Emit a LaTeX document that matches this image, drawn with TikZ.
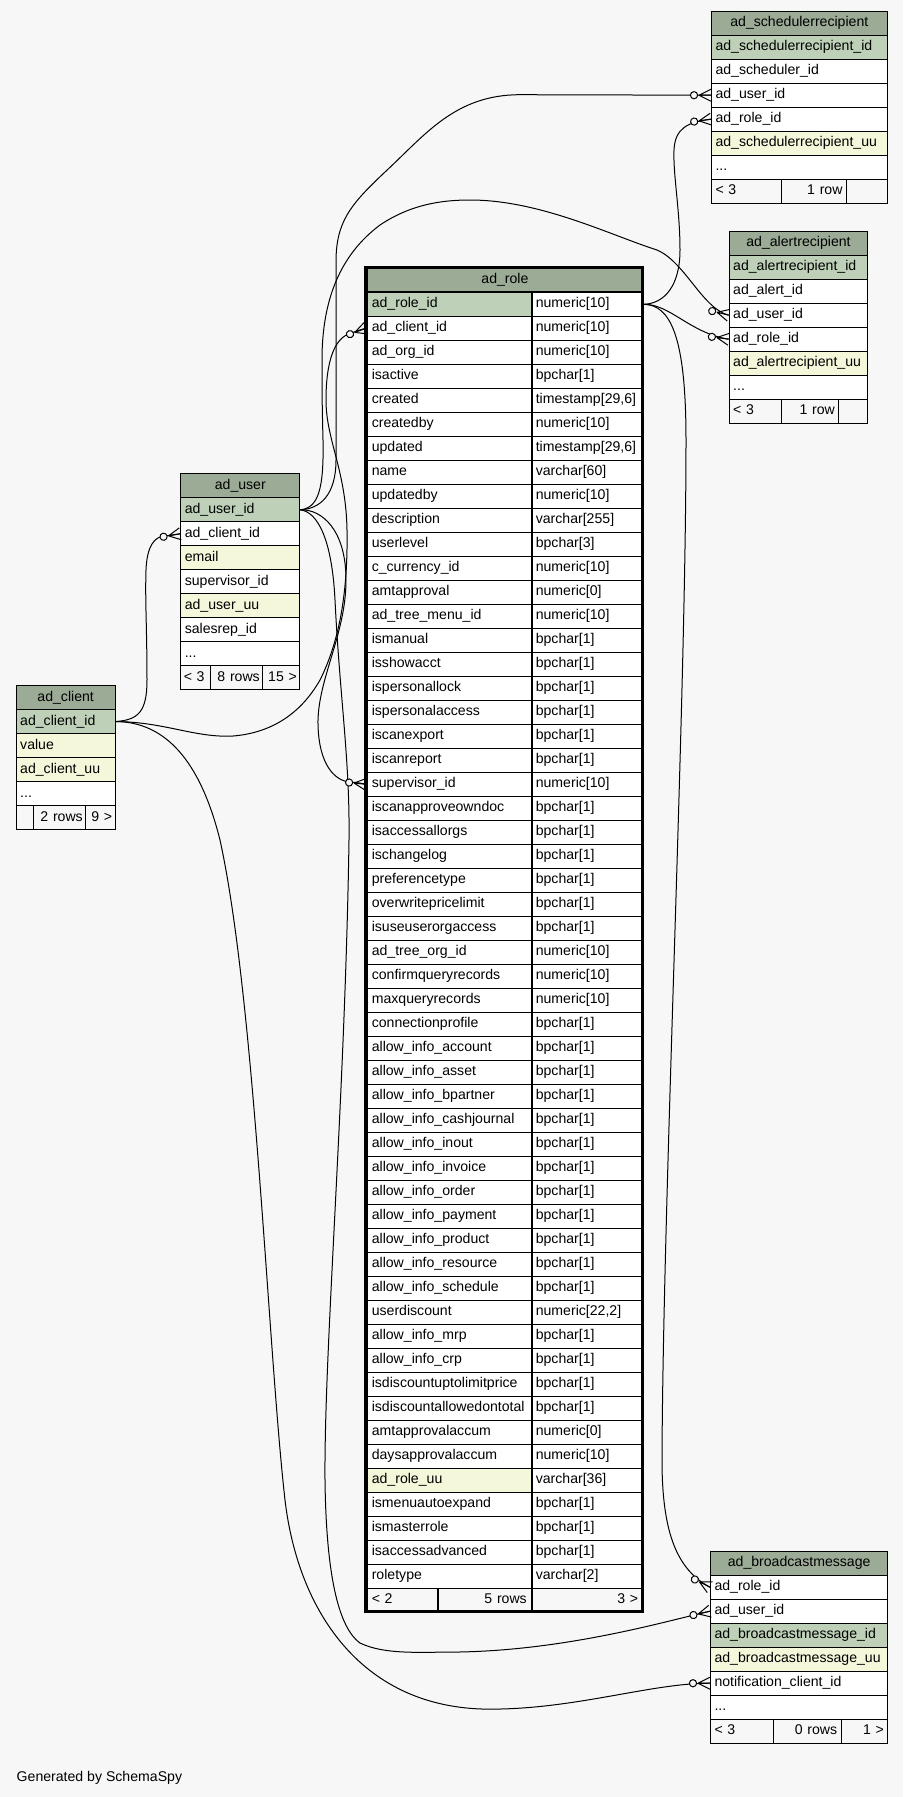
\documentclass[tikz,border=0pt]{standalone}
\usepackage{fontspec}
\setmainfont{Liberation Sans}
\usetikzlibrary{calc}
\definecolor{bg}{HTML}{F7F7F7}
\definecolor{hdr}{HTML}{9BAB96}
\definecolor{pk}{HTML}{BED1B8}
\definecolor{ix}{HTML}{F4F7DA}
\definecolor{wh}{HTML}{FFFFFF}
\newcommand{\cellfont}{\fontsize{14.1pt}{16pt}\selectfont}
\newcommand{\ellip}{.{}.{}.}
\newcommand{\tsa}{timestamp[29,6]}
\newcommand{\ntb}{numeric[22,2]}
\tikzset{
  cell/.style={draw=black, line width=1pt, inner xsep=4pt, inner ysep=0pt,
    minimum height=24pt, text height=10.5pt, text depth=3.5pt,
    anchor=north west, font=\cellfont, align=left},
  rcell/.style={cell, line width=1.6pt},
  edge/.style={draw=black, line width=1pt},
}
\newcommand{\crowat}[2]{%
  \begin{scope}[shift={(#1)},rotate=#2]
    \draw[edge] (-12,0) -- (0,6) (-12,0) -- (0,-6) (-12,0) -- (0,0);
    \draw[edge,fill=bg] (-17,0) circle[radius=3.6pt];
  \end{scope}}
\begin{document}
\begin{tikzpicture}[x=1pt,y=-1pt]
\useasboundingbox (0,0) rectangle (903,1797);
\fill[bg] (0,0) rectangle (903,1797);

% ---------------- ad_schedulerrecipient
\node[cell, fill=hdr, text width=167.7pt, align=center] (sch-h) at (711,10.7) {ad\_schedulerrecipient};
\foreach \nm/\cl [count=\i from 0] in {ad\_schedulerrecipient\_id/pk,ad\_scheduler\_id/wh,ad\_user\_id/wh,ad\_role\_id/wh,ad\_schedulerrecipient\_uu/ix,\ellip/wh}
  \node[cell, fill=\cl, text width=167.7pt] (sch-\i) at (711,{34.7+24*\i}) {\nm};
\node[cell, fill=bg, text width=61.7pt] (sch-f1) at (711,178.7) {< 3};
\node[cell, fill=bg, text width=57.3pt, align=right] (sch-f2) at (780.7,178.7) {1 row};
\node[cell, fill=bg, text width=32.7pt] (sch-f3) at (846,178.7) {};

% ---------------- ad_alertrecipient
\node[cell, fill=hdr, text width=130.6pt, align=center] (alert-h) at (728.7,230.7) {ad\_alertrecipient};
\foreach \nm/\cl [count=\i from 0] in {ad\_alertrecipient\_id/pk,ad\_alert\_id/wh,ad\_user\_id/wh,ad\_role\_id/wh,ad\_alertrecipient\_uu/ix,\ellip/wh}
  \node[cell, fill=\cl, text width=130.6pt] (alert-\i) at (728.7,{254.7+24*\i}) {\nm};
\node[cell, fill=bg, text width=44pt] (alert-f1) at (728.7,398.7) {< 3};
\node[cell, fill=bg, text width=49.6pt, align=right] (alert-f2) at (780.7,398.7) {1 row};
\node[cell, fill=bg, text width=21pt] (alert-f3) at (838.3,398.7) {};

% ---------------- ad_user
\node[cell, fill=hdr, text width=111pt, align=center] (user-h) at (180.3,473.3) {ad\_user};
\foreach \nm/\cl [count=\i from 0] in {ad\_user\_id/pk,ad\_client\_id/wh,email/ix,supervisor\_id/wh,ad\_user\_uu/ix,salesrep\_id/wh,\ellip/wh}
  \node[cell, fill=\cl, text width=111pt] (user-\i) at (180.3,{497.3+24*\i}) {\nm};
\node[cell, fill=bg, inner xsep=3pt, text width=23.7pt] (user-f1) at (180.3,665.3) {< 3};
\node[cell, fill=bg, inner xsep=3pt, text width=46.3pt, align=right] (user-f2) at (210,665.3) {8 rows};
\node[cell, fill=bg, inner xsep=3pt, text width=31pt, align=right] (user-f3) at (262.3,665.3) {15 >};

% ---------------- ad_client
\node[cell, fill=hdr, text width=91pt, align=center] (client-h) at (15.7,685) {ad\_client};
\foreach \nm/\cl [count=\i from 0] in {ad\_client\_id/pk,value/ix,ad\_client\_uu/ix,\ellip/wh}
  \node[cell, fill=\cl, text width=91pt] (client-\i) at (15.7,{709+24*\i}) {\nm};
\node[cell, fill=bg, inner xsep=2pt, text width=13.3pt] (client-f1) at (15.7,805) {};
\node[cell, fill=bg, inner xsep=3pt, text width=46.3pt, align=right] (client-f2) at (33,805) {2 rows};
\node[cell, fill=bg, inner xsep=3pt, text width=23.4pt, align=right] (client-f3) at (85.3,805) {9 >};

% ---------------- ad_broadcastmessage
\node[cell, fill=hdr, text width=169.3pt, align=center] (bc-h) at (710,1550.7) {ad\_broadcastmessage};
\foreach \nm/\cl [count=\i from 0] in {ad\_role\_id/wh,ad\_user\_id/wh,ad\_broadcastmessage\_id/pk,ad\_broadcastmessage\_uu/ix,notification\_client\_id/wh,\ellip/wh}
  \node[cell, fill=\cl, text width=169.3pt] (bc-\i) at (710,{1574.7+24*\i}) {\nm};
\node[cell, fill=bg, text width=54.7pt] (bc-f1) at (710,1718.7) {< 3};
\node[cell, fill=bg, text width=60pt, align=right] (bc-f2) at (772.7,1718.7) {0 rows};
\node[cell, fill=bg, text width=38.6pt, align=right] (bc-f3) at (840.7,1718.7) {1 >};

% ---------------- ad_role
\node[rcell, fill=hdr, text width=268.3pt, align=center] (role-h) at (366,267.3) {ad\_role};
\foreach \nm/\ty/\cl [count=\i from 0] in {
 ad\_role\_id/numeric[10]/pk,
 ad\_client\_id/numeric[10]/wh,
 ad\_org\_id/numeric[10]/wh,
 isactive/bpchar[1]/wh,
 created/\tsa/wh,
 createdby/numeric[10]/wh,
 updated/\tsa/wh,
 name/varchar[60]/wh,
 updatedby/numeric[10]/wh,
 description/varchar[255]/wh,
 userlevel/bpchar[3]/wh,
 c\_currency\_id/numeric[10]/wh,
 amtapproval/numeric[0]/wh,
 ad\_tree\_menu\_id/numeric[10]/wh,
 ismanual/bpchar[1]/wh,
 isshowacct/bpchar[1]/wh,
 ispersonallock/bpchar[1]/wh,
 ispersonalaccess/bpchar[1]/wh,
 iscanexport/bpchar[1]/wh,
 iscanreport/bpchar[1]/wh,
 supervisor\_id/numeric[10]/wh,
 iscanapproveowndoc/bpchar[1]/wh,
 isaccessallorgs/bpchar[1]/wh,
 ischangelog/bpchar[1]/wh,
 preferencetype/bpchar[1]/wh,
 overwritepricelimit/bpchar[1]/wh,
 isuseuserorgaccess/bpchar[1]/wh,
 ad\_tree\_org\_id/numeric[10]/wh,
 confirmqueryrecords/numeric[10]/wh,
 maxqueryrecords/numeric[10]/wh,
 connectionprofile/bpchar[1]/wh,
 allow\_info\_account/bpchar[1]/wh,
 allow\_info\_asset/bpchar[1]/wh,
 allow\_info\_bpartner/bpchar[1]/wh,
 allow\_info\_cashjournal/bpchar[1]/wh,
 allow\_info\_inout/bpchar[1]/wh,
 allow\_info\_invoice/bpchar[1]/wh,
 allow\_info\_order/bpchar[1]/wh,
 allow\_info\_payment/bpchar[1]/wh,
 allow\_info\_product/bpchar[1]/wh,
 allow\_info\_resource/bpchar[1]/wh,
 allow\_info\_schedule/bpchar[1]/wh,
 userdiscount/\ntb/wh,
 allow\_info\_mrp/bpchar[1]/wh,
 allow\_info\_crp/bpchar[1]/wh,
 isdiscountuptolimitprice/bpchar[1]/wh,
 isdiscountallowedontotal/bpchar[1]/wh,
 amtapprovalaccum/numeric[0]/wh,
 daysapprovalaccum/numeric[10]/wh,
 ad\_role\_uu/varchar[36]/ix,
 ismenuautoexpand/bpchar[1]/wh,
 ismasterrole/bpchar[1]/wh,
 isaccessadvanced/bpchar[1]/wh,
 roletype/varchar[2]/wh}
{
  \node[rcell, fill=\cl, inner xsep=5pt, text width=155pt] (rn-\i) at (366,{291.5+24*\i}) {\nm};
  \node[rcell, fill=wh, text width=103.3pt] (rt-\i) at (531,{291.5+24*\i}) {\ty};
}
\node[rcell, fill=bg, inner xsep=5pt, text width=61.3pt] (role-f1) at (366,1587.5) {< 2};
\node[rcell, fill=bg, inner xsep=5pt, text width=83.7pt, align=right] (role-f2) at (437.3,1587.5) {5 rows};
\node[rcell, fill=bg, inner xsep=5pt, text width=101.3pt, align=right] (role-f3) at (531,1587.5) {3 >};
\draw[line width=3.3pt] (366,267.3) rectangle (642.3,1611.5);

% ---------------- connectors
% ad_client -> ad_user.ad_client_id
\draw[edge] (client-0.east) .. controls (138,720) and (147,712) .. (147,680)
  .. controls (147,630) and (145,600) .. (146,570)
  .. controls (147,545) and (155,537) .. (164,536)
  .. controls (170,535.5) and (175,534.3) .. (user-1.west);
% ad_client -> ad_role.ad_client_id
\draw[edge] (client-0.east) .. controls (165,722) and (195,738) .. (233,736)
  .. controls (270,733) and (300,715) .. (320,680)
  .. controls (340,640) and (348,590) .. (347,530)
  .. controls (346,470) and (326,440) .. (326,400)
  .. controls (326,360) and (335,338) .. (350,333.5)
  .. controls (356,331.5) and (360,329.5) .. (rn-1.west);
% ad_client -> ad_broadcastmessage.notification_client_id
\draw[edge] (client-0.east) .. controls (165,722) and (200,760) .. (220,840)
  .. controls (255,1000) and (268,1350) .. (285,1500)
  .. controls (298,1610) and (360,1705) .. (482,1709)
  .. controls (570,1711) and (650,1683) .. (bc-4.west);
% ad_user -> ad_role.supervisor_id
\draw[edge] (user-0.east) .. controls (322,509) and (346,530) .. (346,580)
  .. controls (346,635) and (317,680) .. (318,725)
  .. controls (319,765) and (335,781) .. (350,782)
  .. controls (356,782.5) and (361,783) .. (rn-20.west);
% ad_user -> ad_schedulerrecipient.ad_user_id
\draw[edge] (user-0.east) .. controls (320,509) and (336,495) .. (336,460)
  -- (336,262) .. controls (336,222) and (350,205) .. (385,172)
  .. controls (425,135) and (455,94.7) .. (520,94.7) -- (sch-2.west);
% ad_user -> ad_alertrecipient.ad_user_id
\draw[edge] (user-0.east) .. controls (318,508) and (324,490) .. (323,440)
  .. controls (322,400) and (322,390) .. (322,360)
  .. controls (322,300) and (340,255) .. (380,225)
  .. controls (410,205) and (440,200) .. (470,200)
  .. controls (540,200) and (610,235) .. (657,250)
  .. controls (685,262) and (702,308) .. (alert-2.west);
% ad_user -> ad_broadcastmessage.ad_user_id
\draw[edge] (user-0.east) .. controls (318,512) and (332,540) .. (335,600)
  .. controls (340,700) and (350,760) .. (349,840)
  .. controls (345,1100) and (324,1350) .. (325,1480)
  .. controls (326,1560) and (335,1625) .. (360,1643)
  .. controls (385,1655) and (420,1652) .. (459,1652)
  .. controls (570,1650) and (670,1620) .. (bc-1.west);
% ad_role -> ad_schedulerrecipient.ad_role_id
\draw[edge] (rt-0.east) .. controls (665,303.5) and (680,285) .. (680,250)
  .. controls (680,210) and (673,175) .. (674,150)
  .. controls (675,128) and (688,122) .. (sch-3.west);
% ad_role -> ad_alertrecipient.ad_role_id
\draw[edge] (rt-0.east) .. controls (670,304) and (690,333) .. (alert-3.west);
% ad_role -> ad_broadcastmessage.ad_role_id
\draw[edge] (rt-0.east) .. controls (670,305) and (686,335) .. (686,440)
  .. controls (686,700) and (663,1200) .. (662,1460)
  .. controls (662,1535) and (678,1570) .. (bc-0.west);

% crow's feet with open circles
\crowat{user-1.west}{10}
\crowat{rn-1.west}{20}
\crowat{bc-4.west}{0}
\crowat{rn-20.west}{-6}
\crowat{sch-2.west}{0}
\crowat{alert-2.west}{-14}
\crowat{bc-1.west}{13}
\crowat{sch-3.west}{8}
\crowat{alert-3.west}{-8}
\crowat{bc-0.west}{-27}

\node[font=\cellfont, anchor=base west, inner sep=0pt] (gen) at (16.5,1781.7) {Generated by SchemaSpy};
\end{tikzpicture}
\end{document}
